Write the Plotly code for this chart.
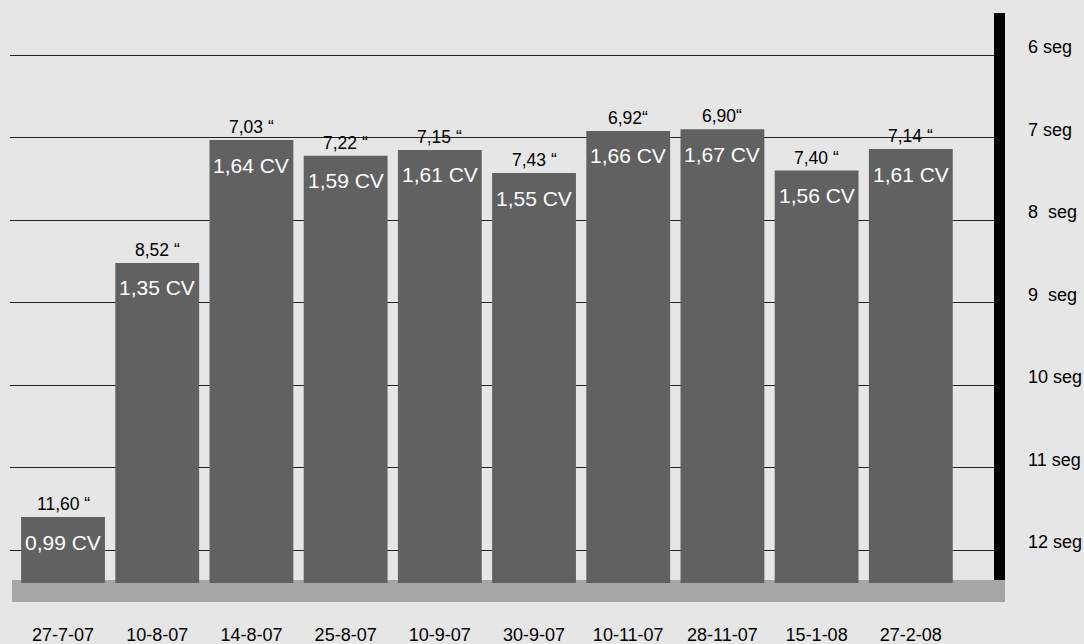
import plotly.graph_objects as go

dates = ["27-7-07", "10-8-07", "14-8-07", "25-8-07", "10-9-07",
         "30-9-07", "10-11-07", "28-11-07", "15-1-08", "27-2-08"]
seconds = [11.60, 8.52, 7.03, 7.22, 7.15, 7.43, 6.92, 6.90, 7.40, 7.14]
time_labels = ["11,60 \u201c", "8,52 \u201c", "7,03 \u201c", "7,22 \u201c", "7,15 \u201c",
               "7,43 \u201c", "6,92\u201c", "6,90\u201c", "7,40 \u201c", "7,14 \u201c"]
power_labels = ["0,99 CV", "1,35 CV", "1,64 CV", "1,59 CV", "1,61 CV",
                "1,55 CV", "1,66 CV", "1,67 CV", "1,56 CV", "1,61 CV"]
y_ticks = [6, 7, 8, 9, 10, 11, 12]
y_ticktext = ["6 seg", "7 seg", "8  seg", "9  seg", "10 seg", "11 seg", "12 seg"]

BASE = 12.40
Y_TOP = 5.49
Y_BOTTOM = 12.63
FLOOR_TOP = 12.364

BG = "#e6e6e6"
xs = list(range(len(dates)))

fig = go.Figure()
fig.add_trace(go.Bar(
    x=xs,
    y=[s - BASE for s in seconds],
    base=BASE,
    marker=dict(color="#616161", line=dict(width=0)),
    width=0.89,
    hoverinfo="skip",
))

annotations = []
for i, s in enumerate(seconds):
    annotations.append(dict(
        x=i, y=s, xref="x", yref="y", text=time_labels[i], showarrow=False,
        yanchor="middle", yshift=13,
        font=dict(family="Liberation Sans, Arial, sans-serif", size=17.5, color="#000000"),
    ))
    annotations.append(dict(
        x=i, y=s, xref="x", yref="y", text=power_labels[i], showarrow=False,
        yanchor="middle", yshift=-25,
        font=dict(family="Liberation Sans Narrow, Arial Narrow, Liberation Sans, sans-serif",
                  size=21, color="#ffffff"),
    ))

shapes = [
    dict(type="rect", xref="paper", yref="y", x0=2 / 984, x1=995 / 984,
         y0=FLOOR_TOP, y1=Y_BOTTOM, fillcolor="#a6a6a6", line=dict(width=0), layer="below"),
    dict(type="rect", xref="paper", yref="y", x0=1.0, x1=1.0 + 11 / 984,
         y0=Y_TOP, y1=FLOOR_TOP, fillcolor="#000000", line=dict(width=0), layer="above"),
]

fig.update_layout(
    width=1084, height=644,
    margin=dict(l=10, r=90, t=13, b=42, autoexpand=False),
    paper_bgcolor=BG, plot_bgcolor=BG,
    showlegend=False,
    annotations=annotations,
    shapes=shapes,
    font=dict(family="Liberation Sans, Arial, sans-serif", size=18, color="#000000"),
    xaxis=dict(
        range=[-0.563, 9.883], tickvals=xs, ticktext=dates,
        showgrid=False, zeroline=False, showline=False, ticks="",
        ticklabelstandoff=20, automargin=False,
        tickfont=dict(size=18, color="#000000"),
        fixedrange=True,
    ),
    yaxis=dict(
        range=[Y_BOTTOM, Y_TOP], autorange=False, side="right",
        tickvals=y_ticks, ticktext=y_ticktext,
        showgrid=True, gridcolor="#222222", gridwidth=1,
        zeroline=False, showline=False, ticks="",
        ticklabelstandoff=33, ticklabelshift=8, automargin=False,
        tickfont=dict(size=18, color="#000000"),
        fixedrange=True,
    ),
)

fig.write_html(
    "out.html",
    config={"displayModeBar": False},
    post_script="document.body.style.margin='0';document.body.style.background='%s';" % BG,
)
